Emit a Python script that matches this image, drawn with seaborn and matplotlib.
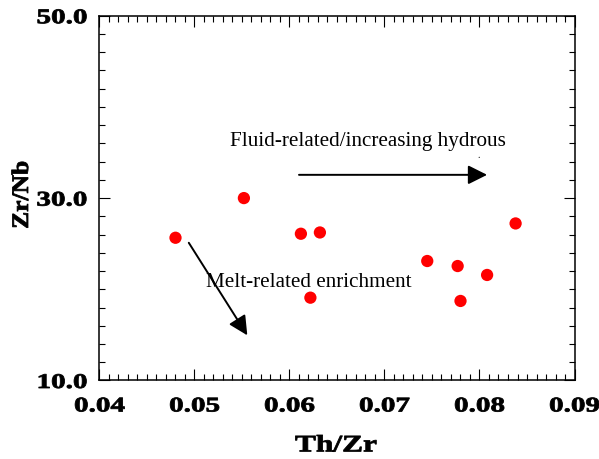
import matplotlib
matplotlib.use("Agg")
import matplotlib.pyplot as plt
import seaborn as sns
import pandas as pd
from matplotlib import patheffects
from matplotlib.transforms import Affine2D
from matplotlib.ticker import MultipleLocator, FixedLocator

# ---- data ----
th_zr = [0.0480, 0.0552, 0.0612, 0.0632, 0.0622, 0.0745, 0.0777, 0.0808, 0.0780, 0.0838]
zr_nb = [25.65, 30.0, 26.09, 26.23, 19.08, 23.10, 22.55, 21.57, 18.72, 27.22]

x_ticks = [0.04, 0.05, 0.06, 0.07, 0.08, 0.09]
x_tick_labels = ["0.04", "0.05", "0.06", "0.07", "0.08", "0.09"]
y_ticks = [10, 30, 50]
y_tick_labels = ["10.0", "30.0", "50.0"]

x_label = "Th/Zr"
y_label = "Zr/Nb"
fluid_text = "Fluid-related/increasing hydrous"
melt_text = "Melt-related enrichment"

# annotation anchor points (data coordinates)
fluid_arrow = ((0.0610, 32.55), (0.0808, 32.55))
melt_arrow = ((0.0494, 25.1), (0.05556, 14.95))
fluid_text_pos = (0.05374, 35.87)
melt_text_pos = (0.05118, 20.32)
stray_dot_pos = (0.07987, 34.52)

df = pd.DataFrame({"Th/Zr": th_zr, "Zr/Nb": zr_nb})


class HStretch(patheffects.AbstractPathEffect):
    """Draw text glyphs stretched along the text direction, slightly emboldened."""

    def __init__(self, sx, anchor="center", stroke=0.5):
        super().__init__(offset=(0, 0))
        self._sx = sx
        self._anchor = anchor
        self._stroke = stroke

    def draw_path(self, renderer, gc, tpath, affine, rgbFace=None):
        ext = tpath.get_extents()
        if self._anchor == "right":
            a = ext.x1
        elif self._anchor == "left":
            a = ext.x0
        else:
            a = 0.5 * (ext.x0 + ext.x1)
        t = Affine2D().translate(-a, 0).scale(self._sx, 1.0).translate(a, 0)
        gc0 = renderer.new_gc()
        gc0.copy_properties(gc)
        gc0.set_linewidth(self._stroke)
        if rgbFace is not None:
            gc0.set_foreground(rgbFace)
        gc0.set_joinstyle("round")
        renderer.draw_path(gc0, tpath, t + affine, rgbFace)
        gc0.restore()


sns.set_theme(style="white")
plt.rcParams["font.family"] = ["Liberation Serif", "DejaVu Serif"]
plt.rcParams["axes.edgecolor"] = "black"

fig = plt.figure(figsize=(5.99, 4.60), dpi=100)
ax = fig.add_axes([0.1661, 0.1707, 0.7930, 0.7930])

sns.scatterplot(data=df, x="Th/Zr", y="Zr/Nb", ax=ax, color="#ff0000",
                s=78, edgecolor="none", linewidth=0, zorder=3)

ax.set_xlim(0.04, 0.09)
ax.set_ylim(10, 50)

ax.xaxis.set_major_locator(FixedLocator(x_ticks))
ax.xaxis.set_minor_locator(MultipleLocator(0.001))
ax.yaxis.set_major_locator(FixedLocator(y_ticks))
ax.yaxis.set_minor_locator(MultipleLocator(2))
ax.set_xticklabels(x_tick_labels)
ax.set_yticklabels(y_tick_labels)

for s in ax.spines.values():
    s.set_visible(True)
    s.set_color("black")
    s.set_linewidth(1.1)

ax.tick_params(which="both", direction="in", top=True, right=True,
               bottom=True, left=True, color="black", width=0.8)
ax.tick_params(which="major", length=8)
ax.tick_params(which="minor", length=4)
ax.tick_params(axis="x", which="major", pad=11.5)
ax.tick_params(axis="y", which="major", pad=9)

for lab in ax.get_xticklabels():
    lab.set_fontsize(15)
    lab.set_fontweight("bold")
    lab.set_color("black")
    lab.set_path_effects([HStretch(1.40, "center", 0.6)])
for lab in ax.get_yticklabels():
    lab.set_fontsize(15)
    lab.set_fontweight("bold")
    lab.set_color("black")
    lab.set_path_effects([HStretch(1.40, "right", 0.6)])

ax.set_xlabel(x_label, fontsize=17, fontweight="bold", color="black")
ax.set_ylabel(y_label, fontsize=17, fontweight="bold", color="black")
ax.xaxis.set_label_coords(0.498, -0.1505)
ax.yaxis.set_label_coords(-0.14, 0.509)
ax.xaxis.label.set_path_effects([HStretch(1.33, "center", 0.6)])
ax.yaxis.label.set_path_effects([HStretch(1.08, "center", 0.6)])

arrow_style = "-|>,head_length=0.58,head_width=0.29"
for (start, end) in (fluid_arrow, melt_arrow):
    ax.annotate("", xy=end, xytext=start,
                arrowprops=dict(arrowstyle=arrow_style, mutation_scale=20,
                                color="black", lw=1.4, shrinkA=0, shrinkB=0),
                zorder=4)

ax.text(*fluid_text_pos, fluid_text, fontsize=15.2, color="black",
        ha="left", va="baseline", zorder=5)
ax.text(*melt_text_pos, melt_text, fontsize=15.2, color="black",
        ha="left", va="baseline", zorder=5)
ax.text(*stray_dot_pos, ".", fontsize=7, color="black",
        ha="center", va="baseline", zorder=5)

fig.savefig("out.png", dpi=100)
